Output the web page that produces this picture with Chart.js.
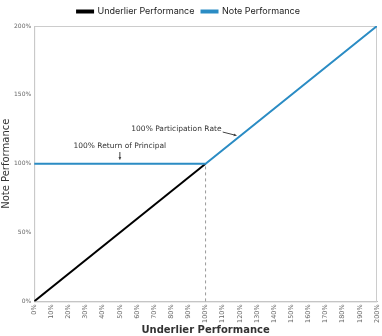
<!DOCTYPE html>
<html>
<head>
<meta charset="utf-8">
<script src="https://cdn.jsdelivr.net/npm/chart.js@4.4.0/dist/chart.umd.min.js"></script>
<style>
  html, body { margin: 0; padding: 0; background: #fff; }
  #wrap { width: 382px; height: 336px; }
</style>
</head>
<body>
<div id="wrap"><canvas id="chart"></canvas></div>
<script>
// underlier performance (x) vs note performance (y), in %
const underlierX = [0, 100];
const underlierY = [0, 100];
const noteX = [0, 100, 200];
const noteY = [100, 100, 200];
const xTicks = [0, 10, 20, 30, 40, 50, 60, 70, 80, 90, 100, 110, 120, 130, 140, 150, 160, 170, 180, 190, 200];
const yTicks = [0, 50, 100, 150, 200];

// callouts: text position and arrow (from -> to), in data units
const callouts = [
  { text: '100% Return of Principal', x: 50, y: 113, from: [50, 108.5], to: [50, 103] },
  { text: '100% Participation Rate', x: 83, y: 125, from: [110, 123], to: [118, 120.5] }
];
const dashedX = 100;

const calloutPlugin = {
  id: 'callouts',
  beforeDatasetsDraw(chart) {
    const { ctx, chartArea: a } = chart;
    ctx.save();
    ctx.strokeStyle = '#ccc';
    ctx.lineWidth = 1;
    ctx.strokeRect(a.left + 0.5, a.top + 0.5, a.right - a.left - 1, a.bottom - a.top);
    ctx.restore();
  },
  afterDatasetsDraw(chart) {
    const { ctx, scales: { x, y } } = chart;
    ctx.save();
    // dashed guide at 100%
    ctx.strokeStyle = '#999';
    ctx.lineWidth = 1;
    ctx.setLineDash([3, 3]);
    ctx.beginPath();
    ctx.moveTo(x.getPixelForValue(dashedX), y.getPixelForValue(0));
    ctx.lineTo(x.getPixelForValue(dashedX), y.getPixelForValue(100) + 2);
    ctx.stroke();
    ctx.setLineDash([]);

    ctx.font = '7.5px "DejaVu Sans"';
    ctx.fillStyle = '#333';
    ctx.textAlign = 'center';
    ctx.textBaseline = 'middle';
    callouts.forEach(c => {
      ctx.fillText(c.text, x.getPixelForValue(c.x), y.getPixelForValue(c.y));
      const x1 = x.getPixelForValue(c.from[0]), y1 = y.getPixelForValue(c.from[1]);
      const x2 = x.getPixelForValue(c.to[0]), y2 = y.getPixelForValue(c.to[1]);
      ctx.strokeStyle = '#444';
      ctx.beginPath();
      ctx.moveTo(x1, y1);
      ctx.lineTo(x2, y2);
      ctx.stroke();
      const ang = Math.atan2(y2 - y1, x2 - x1);
      ctx.beginPath();
      ctx.moveTo(x2, y2);
      ctx.lineTo(x2 - 3 * Math.cos(ang - 0.5), y2 - 3 * Math.sin(ang - 0.5));
      ctx.lineTo(x2 - 3 * Math.cos(ang + 0.5), y2 - 3 * Math.sin(ang + 0.5));
      ctx.closePath();
      ctx.fillStyle = '#444';
      ctx.fill();
      ctx.fillStyle = '#333';
    });
    ctx.restore();
  }
};

const ctx = document.getElementById('chart').getContext('2d');
new Chart(ctx, {
  type: 'scatter',
  data: {
    datasets: [
      {
        label: 'Underlier Performance',
        data: underlierX.map((v, i) => ({ x: v, y: underlierY[i] })),
        showLine: true, borderColor: '#000', backgroundColor: '#000',
        borderWidth: 2, pointRadius: 0, order: 2
      },
      {
        label: 'Note Performance',
        data: noteX.map((v, i) => ({ x: v, y: noteY[i] })),
        showLine: true, borderColor: '#2b8cc4', backgroundColor: '#2b8cc4',
        borderWidth: 2, pointRadius: 0, order: 1
      }
    ]
  },
  options: {
    responsive: true,
    maintainAspectRatio: false,
    animation: false,
    layout: { padding: { top: 0, right: 5, left: 0, bottom: 0 } },
    plugins: {
      legend: {
        position: 'top',
        labels: {
          boxWidth: 16, boxHeight: 2, padding: 7, color: '#222',
          font: { size: 9, family: 'Inter' },
          sort: (a, b) => a.datasetIndex - b.datasetIndex
        }
      },
      tooltip: { enabled: false }
    },
    scales: {
      x: {
        type: 'linear', min: 0, max: 200,
        afterBuildTicks: axis => { axis.ticks = xTicks.map(v => ({ value: v })); },
        afterFit: axis => { axis.paddingRight = 0; },
        grid: { display: false, drawTicks: true, tickLength: 2 },
        border: { color: '#bbb' },
        ticks: {
          minRotation: 90, maxRotation: 90, autoSkip: false,
          color: '#666', font: { size: 6.5, family: 'DejaVu Sans' },
          padding: 1,
          callback: v => v + '%'
        },
        title: {
          display: true, text: 'Underlier Performance', color: '#333',
          font: { size: 10, weight: 'bold', family: 'DejaVu Sans' }, padding: { top: 0, bottom: 0 }
        }
      },
      y: {
        min: 0, max: 200,
        afterBuildTicks: axis => { axis.ticks = yTicks.map(v => ({ value: v })); },
        grid: { display: false, drawTicks: true, tickLength: 2 },
        border: { color: '#bbb' },
        ticks: { color: '#666', font: { size: 6, family: 'DejaVu Sans' }, padding: 1, callback: v => v + '%' },
        title: {
          display: true, text: 'Note Performance', color: '#333',
          font: { size: 10, family: 'DejaVu Sans' }, padding: { top: 0, bottom: 1 }
        }
      }
    }
  },
  plugins: [calloutPlugin]
});
</script>
</body>
</html>
